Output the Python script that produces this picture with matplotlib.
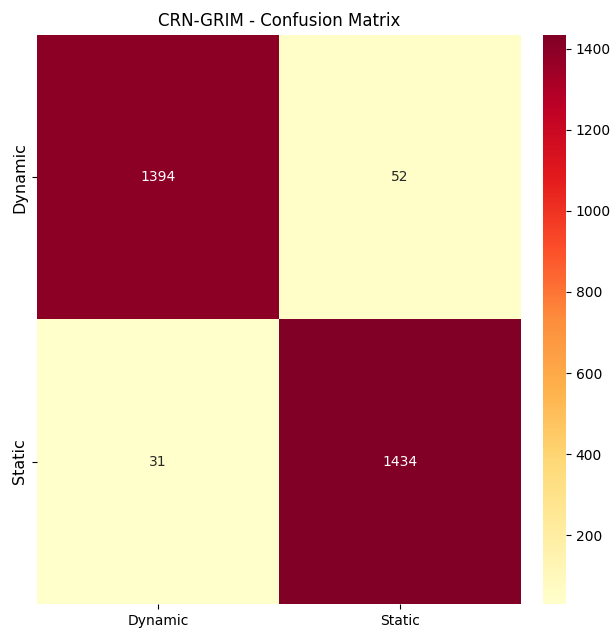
import numpy as np
import matplotlib
matplotlib.use("Agg")
from matplotlib import pyplot as plt
import seaborn as sns

labels = ["Dynamic", "Static"]
row_dynamic = [1394, 52]
row_static = [31, 1434]


def draw_confusion_matrix(labels, rows, title):
    cm = np.array(rows)
    fig = plt.figure(figsize=(6.1, 6.33), dpi=100)
    ax = fig.add_axes([0.061, 0.046, 0.793, 0.899])
    cax = fig.add_axes([0.890, 0.046, 0.038, 0.899])
    sns.heatmap(
        cm,
        annot=True,
        fmt="d",
        cmap="YlOrRd",
        xticklabels=labels,
        yticklabels=labels,
        ax=ax,
        cbar_ax=cax,
    )
    ax.set_title(title, fontsize=12)
    # row labels are a bit larger than the column labels
    ax.tick_params(axis="y", labelsize=11.5)
    cax.tick_params(labelsize=10)
    fig.savefig("out.png", dpi=100)


if __name__ == "__main__":
    draw_confusion_matrix(labels, [row_dynamic, row_static], "CRN-GRIM - Confusion Matrix")
